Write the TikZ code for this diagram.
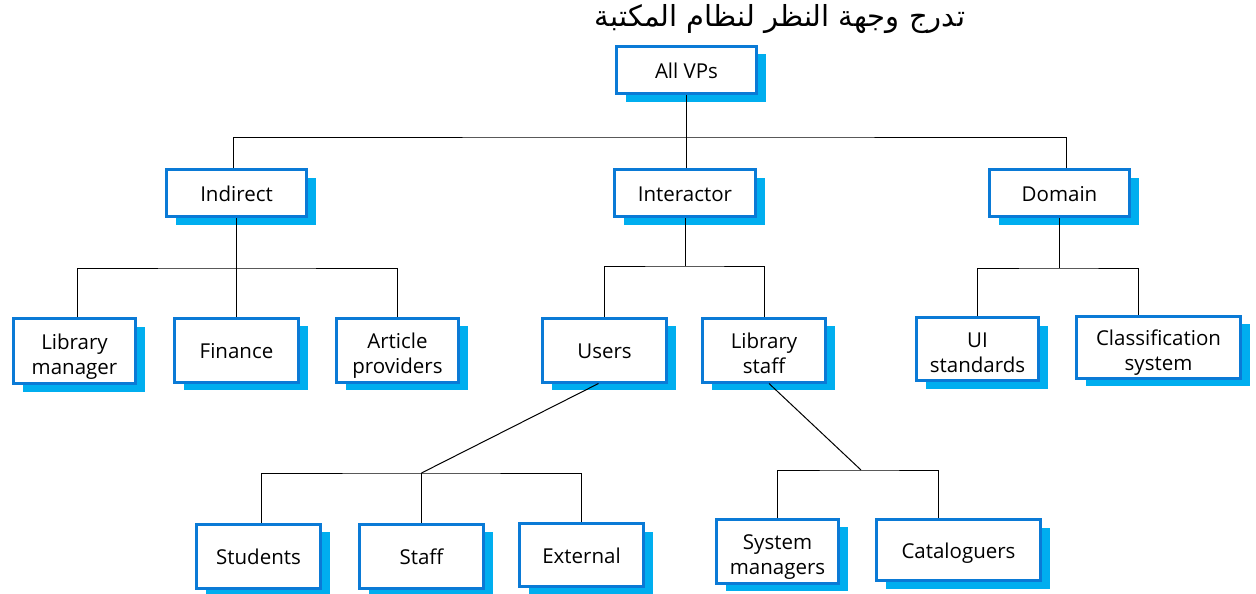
\documentclass[tikz,border=0pt]{standalone}
\usepackage{fontspec}
\setmainfont{Open Sans}
\newfontfamily\arabicfont[Script=Arabic]{DejaVu Sans}
\TeXXeTstate=1
\usetikzlibrary{shadows}
\definecolor{boxline}{HTML}{0A7AD6}
\definecolor{boxshade}{HTML}{00AEEF}
% two stacked lines, set slightly below the box centre
\newcommand\vplines[2]{\rule{0pt}{27pt}#1\\#2}
\tikzset{
  vpbox/.style={draw=boxline, line width=3pt, fill=white, align=center,
    font=\fontsize{20.5}{25}\selectfont, inner sep=2pt,
    execute at begin node={\rule{0pt}{22pt}},
    execute at end node={\rule[-6pt]{0pt}{0pt}},
    general shadow={fill=boxshade, shadow xshift=9pt, shadow yshift=-8pt}},
  link/.style={draw=black, line width=1pt},
}
\begin{document}
\begin{tikzpicture}[x=1pt, y=-1pt]
\useasboundingbox (0,0) rectangle (1256,594);

% title
\node (title) at (780,19) {\arabicfont\fontsize{29}{32}\selectfont\beginR تدرج وجهة النظر لنظام المكتبة\endR};

% level 0
\node[vpbox, minimum width=140pt, minimum height=47pt] (all) at (686.5,70) {All VPs};

% level 1
\node[vpbox, minimum width=140pt, minimum height=47pt] (indirect) at (236.5,193) {Indirect};
\node[vpbox, minimum width=141pt, minimum height=47pt] (interactor) at (685,193) {Interactor};
\node[vpbox, minimum width=140pt, minimum height=47pt] (domain) at (1059.5,193) {Domain};

% level 2
\node[vpbox, minimum width=122pt, minimum height=65pt] (libman) at (74.5,351) {\vplines{Library}{manager}};
\node[vpbox, minimum width=124pt, minimum height=64pt] (finance) at (236.5,350) {Finance};
\node[vpbox, minimum width=122pt, minimum height=64pt] (article) at (397.5,350) {\vplines{Article}{providers}};
\node[vpbox, minimum width=124pt, minimum height=64pt] (users) at (604.5,350) {Users};
\node[vpbox, minimum width=123pt, minimum height=64pt] (libstaff) at (764,350) {\vplines{Library}{staff}};
\node[vpbox, minimum width=122pt, minimum height=63pt] (ui) at (977.5,349) {\vplines{UI}{standards}};
\node[vpbox, minimum width=164pt, minimum height=59pt] (classif) at (1158.5,347) {\vplines{Classification}{system}};

% level 3
\node[vpbox, minimum width=124pt, minimum height=64pt] (students) at (258.5,556) {Students};
\node[vpbox, minimum width=124pt, minimum height=64pt] (staff) at (421.5,556) {Staff};
\node[vpbox, minimum width=124pt, minimum height=63pt] (external) at (581.5,555) {External};
\node[vpbox, minimum width=122pt, minimum height=64pt] (sysman) at (777.5,551) {\vplines{System}{managers}};
\node[vpbox, minimum width=164pt, minimum height=61pt] (catalog) at (958.5,550) {Cataloguers};

% junction points of the tree
\coordinate (j0) at (686.5,137);
\coordinate (j1) at (236.5,268);
\coordinate (j2) at (685,266);
\coordinate (j3) at (1059.5,268);
\coordinate (j4) at (421.5,473);
\coordinate (j5) at (861,470);

% connectors
\draw[link] (all.south) -- (j0);
\draw[link] ([xshift=-3.5pt]indirect.north) |- (j0) -| ([xshift=6.5pt]domain.north);
\draw[link] (j0) -- (j0 |- interactor.north);

\draw[link] (indirect.south) -- (j1);
\draw[link] ([xshift=2.5pt]libman.north) |- (j1) -| (article.north);
\draw[link] (j1) -- (finance.north);

\draw[link] (interactor.south) -- (j2);
\draw[link] (users.north) |- (j2) -| (libstaff.north);

\draw[link] (domain.south) -- (j3);
\draw[link] (ui.north) |- (j3) -| ([xshift=-20pt]classif.north);

\draw[link] ([xshift=-6pt]users.south) -- (j4);
\draw[link] ([xshift=2.5pt]students.north) |- (j4) -| (external.north);
\draw[link] (j4) -- (staff.north);

\draw[link] ([xshift=5pt]libstaff.south) -- (j5);
\draw[link] (sysman.north) |- (j5) -| ([xshift=-20pt]catalog.north);
\end{tikzpicture}
\end{document}
